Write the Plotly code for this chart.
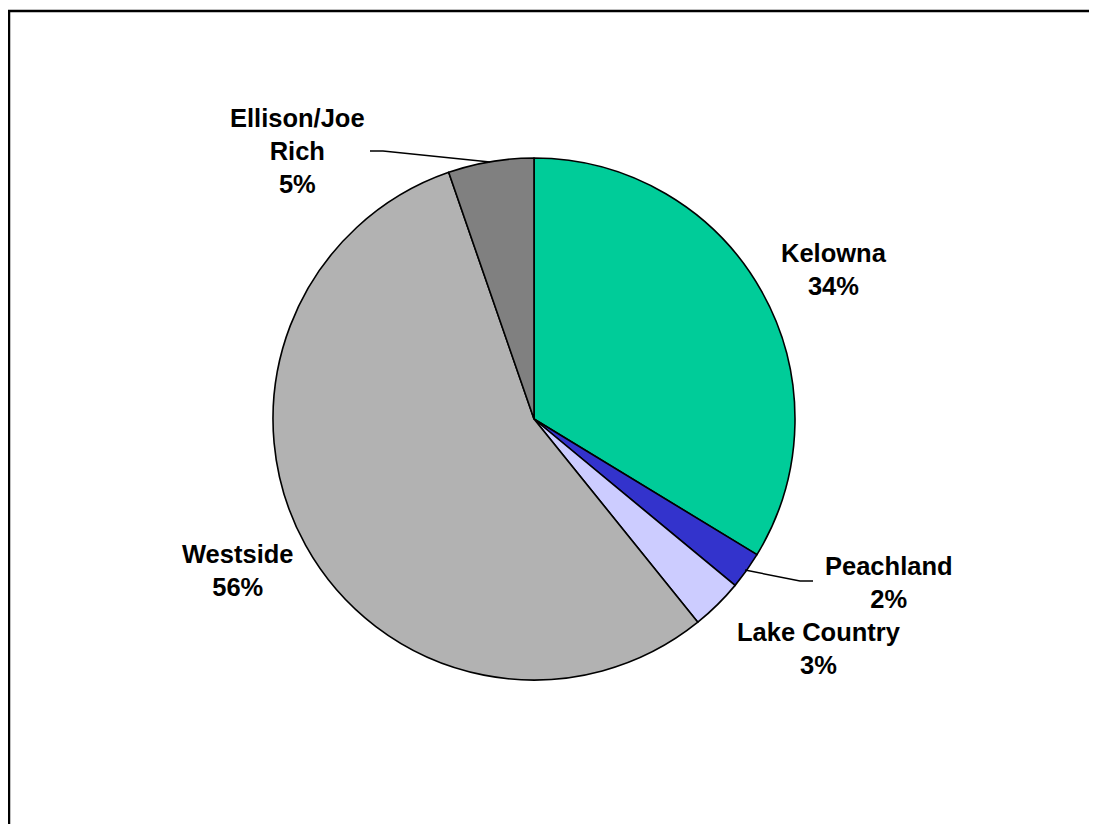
import plotly.graph_objects as go

regions = ["Kelowna", "Peachland", "Lake Country", "Westside", "Ellison/Joe Rich"]
shares = [33.7, 2.3, 3.2, 55.5, 5.3]
colors = ["#00CC99", "#3333CC", "#CCCCFF", "#B2B2B2", "#808080"]
label_texts = ["<b>Kelowna<br>34%</b>", "<b>Peachland<br>2%</b>", "<b>Lake Country<br>3%</b>",
               "<b>Westside<br>56%</b>", "<b>Ellison/Joe<br>Rich<br>5%</b>"]
# label centres in page pixels
label_pos = [(834, 269), (889, 582), (819, 648), (238, 570), (297, 151)]

OFF = 8  # default page body margin
W, H = 1097 - OFF, 824 - OFF
cx, cy, r = 534 - OFF, 419 - OFF, 261


def fx(x):
    return (x - OFF) / W


def fy(y):
    return 1 - (y - OFF) / H


fig = go.Figure(go.Pie(
    labels=regions, values=shares, sort=False, direction="clockwise", rotation=0,
    marker=dict(colors=colors, line=dict(color="black", width=1.6)),
    textinfo="none", hoverinfo="label+percent", showlegend=False,
    domain=dict(x=[(cx - r) / W, (cx + r) / W], y=[(H - cy - r) / H, (H - cy + r) / H]),
))

for txt, (x, y) in zip(label_texts, label_pos):
    fig.add_annotation(x=fx(x), y=fy(y), xref="paper", yref="paper", text=txt,
                       showarrow=False, xanchor="center", yanchor="middle",
                       font=dict(family="Liberation Sans, Arial, sans-serif", size=25.5, color="black"))


def px_path(pts):
    return "M " + " L ".join(f"{fx(x)},{fy(y)}" for x, y in pts)


# leader lines
fig.add_shape(type="path", xref="paper", yref="paper",
              path=px_path([(370, 151), (383, 151), (490, 162)]),
              line=dict(color="black", width=1.5))
fig.add_shape(type="path", xref="paper", yref="paper",
              path=px_path([(745, 570), (800, 581), (813, 581)]),
              line=dict(color="black", width=1.5))

# frame
fig.add_shape(type="rect", xref="paper", yref="paper",
              x0=fx(9), y0=-0.05, x1=1.05, y1=fy(11),
              line=dict(color="black", width=2.5))

fig.update_layout(width=W, height=H, margin=dict(l=0, r=0, t=0, b=0),
                  paper_bgcolor="white", plot_bgcolor="white")

fig.write_html("out.html")
